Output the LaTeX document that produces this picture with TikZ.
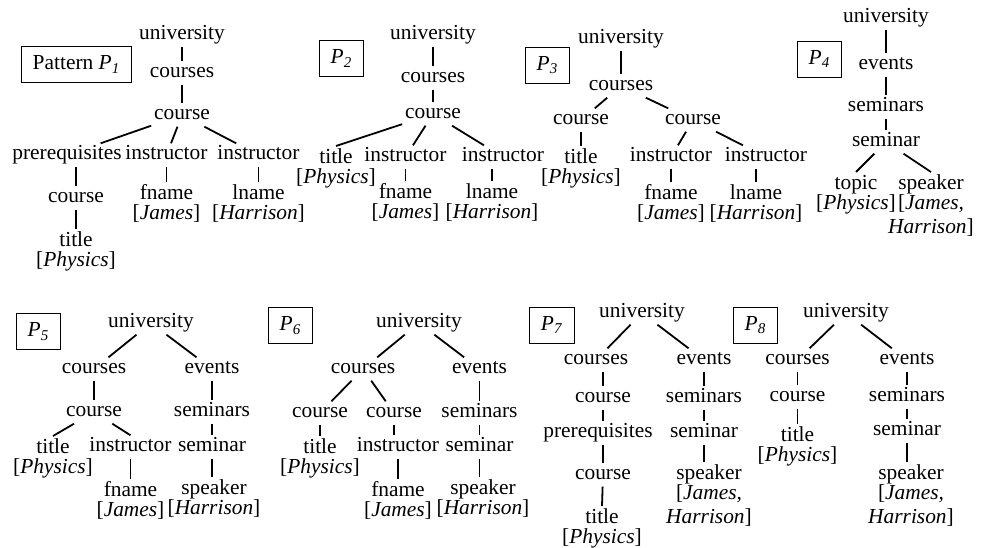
\documentclass[tikz,border=0pt]{standalone}
\usepackage{fontspec}
\setmainfont{Liberation Serif}
\begin{document}
\begin{tikzpicture}[x=0.5pt,y=-0.5pt,line width=0.9pt,
  lbl/.style={inner sep=1pt, align=center, font=\fontsize{10.7pt}{10pt}\selectfont},
  word/.style={lbl, text height=0.68em, text depth=0.2em},
  leaf/.style={lbl, anchor=north},
  pbox/.style={draw, line width=0.5pt, inner xsep=5.5pt, minimum height=18pt, font=\fontsize{10.7pt}{12pt}\selectfont}]
\useasboundingbox (0,0) rectangle (986,547);
\node[pbox] (p1p) at (76.5,64.5){Pattern \textit{P}\textsubscript{\textit{1}}};
\node[word] (p1u) at (182,35){university};
\node[word] (p1cs) at (182,73){courses};
\draw[](p1u) -- (p1cs);
\node[word] (p1c) at (182,115){course};
\draw[](p1cs) -- (p1c);
\node[word] (p1pr) at (67,155){prerequisites};
\node[word] (p1i) at (166.5,155){instructor};
\node[word] (p1j) at (258.5,155){instructor};
\draw[](p1c) -- (p1pr);
\draw[](p1c) -- (p1i);
\draw[](p1c) -- (p1j);
\node[word] (p1pc) at (76,198){course};
\node[leaf] (p1t) at (76,229){title\\{}[\textit{Physics}]};
\draw[](p1pc |- p1pr.south) -- (p1pc);
\draw[](p1pc) -- (p1t.north);
\node[leaf] (p1f) at (166.5,182){fname\\{}[\textit{James}]};
\node[leaf] (p1l) at (258.5,182){lname\\{}[\textit{Harrison}]};
\draw[](p1i) -- (p1f.north);
\draw[](p1j) -- (p1l.north);
\node[pbox] (p2p) at (341.5,58.5){\textit{P}\textsubscript{\textit{2}}};
\node[word] (p2u) at (433,35){university};
\node[word] (p2cs) at (433,78){courses};
\node[word] (p2c) at (433,114){course};
\draw[](p2u) -- (p2cs);
\draw[](p2cs) -- (p2c);
\node[leaf] (p2t) at (336,146){title\\{}[\textit{Physics}]};
\node[word] (p2i) at (405.5,157){instructor};
\node[word] (p2j) at (503,157){instructor};
\draw[](p2c) -- (p2t.north);
\draw[](p2c) -- (p2i);
\draw[](p2c) -- (p2j);
\node[leaf] (p2f) at (405.5,181){fname\\{}[\textit{James}]};
\node[leaf] (p2l) at (492,181){lname\\{}[\textit{Harrison}]};
\draw[](p2i) -- (p2f.north);
\draw[](p2l |- p2j.south) -- (p2l.north);
\node[pbox] (p3p) at (547.5,65){\textit{P}\textsubscript{\textit{3}}};
\node[word] (p3u) at (621,39){university};
\node[word] (p3cs) at (621,86){courses};
\draw[](p3u) -- (p3cs);
\node[word] (p3c) at (581,120){course};
\node[word] (p3d) at (693,120){course};
\draw[](p3cs) -- (p3c);
\draw[](p3cs) -- (p3d);
\node[leaf] (p3t) at (581,146){title\\{}[\textit{Physics}]};
\draw[](p3c) -- (p3t.north);
\node[word] (p3i) at (671,157){instructor};
\node[word] (p3j) at (766,157){instructor};
\draw[](p3d) -- (p3i);
\draw[](p3d) -- (p3j);
\node[leaf] (p3f) at (671,182){fname\\{}[\textit{James}]};
\node[leaf] (p3l) at (756,182){lname\\{}[\textit{Harrison}]};
\draw[](p3i) -- (p3f.north);
\draw[](p3l |- p3j.south) -- (p3l.north);
\node[pbox] (p4p) at (819.5,59){\textit{P}\textsubscript{\textit{4}}};
\node[word] (p4u) at (886,18){university};
\node[word] (p4e) at (886,65){events};
\node[word] (p4s) at (886,107){seminars};
\node[word] (p4m) at (886,142){seminar};
\draw[](p4u) -- (p4e);
\draw[](p4e) -- (p4s);
\draw[](p4s) -- (p4m);
\node[leaf] (p4t) at (856,172){topic\\{}[\textit{Physics}]};
\node[leaf] (p4k) at (931,172){speaker\\{}[\textit{James,}\\[2pt]\textit{Harrison}]};
\draw[](p4m) -- (p4t.north);
\draw[](p4m) -- (p4k.north);
\node[pbox] (p5p) at (38.5,331.5){\textit{P}\textsubscript{\textit{5}}};
\node[word] (p5u) at (151,323){university};
\node[word] (p5cs) at (94,369){courses};
\node[word] (p5e) at (212,369){events};
\draw[](p5u) -- (p5cs);
\draw[](p5u) -- (p5e);
\node[word] (p5c) at (94,412){course};
\draw[](p5cs) -- (p5c);
\node[leaf] (p5t) at (53,436){title\\{}[\textit{Physics}]};
\node[word] (p5i) at (130.5,447){instructor};
\draw[](p5c) -- (p5t.north);
\draw[](p5c) -- (p5i.north);
\node[leaf] (p5f) at (130.5,479){fname\\{}[\textit{James}]};
\draw[](p5i) -- (p5f.north);
\node[word] (p5s) at (212,412){seminars};
\node[word] (p5m) at (212,447){seminar};
\node[leaf] (p5k) at (214,477){speaker\\{}[\textit{Harrison}]};
\draw[](p5e) -- (p5s);
\draw[](p5s) -- (p5m);
\draw[](p5m) -- (p5m |- p5k.north);
\node[pbox] (p6p) at (290.5,325.5){\textit{P}\textsubscript{\textit{6}}};
\node[word] (p6u) at (419,323){university};
\node[word] (p6cs) at (363,369){courses};
\node[word] (p6e) at (479.5,369){events};
\draw[](p6u) -- (p6cs);
\draw[](p6u) -- (p6e);
\node[word] (p6c) at (320,413){course};
\node[word] (p6d) at (394,413){course};
\draw[](p6cs) -- (p6c);
\draw[](p6cs) -- (p6d);
\node[leaf] (p6t) at (320,436){title\\{}[\textit{Physics}]};
\node[word] (p6i) at (398,447){instructor};
\draw[](p6c) -- (p6t.north);
\draw[](p6d) -- (p6d |- p6i.north);
\node[leaf] (p6f) at (398,479){fname\\{}[\textit{James}]};
\draw[](p6i) -- (p6f.north);
\node[word] (p6s) at (479.5,413){seminars};
\node[word] (p6m) at (479.5,447){seminar};
\node[leaf] (p6k) at (483,477){speaker\\{}[\textit{Harrison}]};
\draw[](p6e) -- (p6s);
\draw[](p6s) -- (p6m);
\draw[](p6m) -- (p6m |- p6k.north);
\node[pbox] (p7p) at (552,325){\textit{P}\textsubscript{\textit{7}}};
\node[word] (p7u) at (642,313){university};
\node[word] (p7cs) at (596,360){courses};
\node[word] (p7e) at (704,360){events};
\draw[](p7u) -- (p7cs);
\draw[](p7u) -- (p7e);
\node[word] (p7c) at (603,398){course};
\node[word] (p7pr) at (598,433){prerequisites};
\node[word] (p7pc) at (603,475){course};
\node[leaf] (p7t) at (602,506){title\\{}[\textit{Physics}]};
\draw[](p7c |- p7cs.south) -- (p7c);
\draw[](p7c) -- (p7c |- p7pr.north);
\draw[](p7pc |- p7pr.south) -- (p7pc);
\draw[](p7pc) -- (p7t.north);
\node[word] (p7s) at (704,398){seminars};
\node[word] (p7m) at (704,433){seminar};
\node[leaf] (p7k) at (709,462){speaker\\{}[\textit{James,}\\[2pt]\textit{Harrison}]};
\draw[](p7e) -- (p7s);
\draw[](p7s) -- (p7m);
\draw[](p7m) -- (p7m |- p7k.north);
\node[pbox] (p8p) at (755.5,325){\textit{P}\textsubscript{\textit{8}}};
\node[word] (p8u) at (846,313){university};
\node[word] (p8cs) at (797.5,360){courses};
\node[word] (p8e) at (907,360){events};
\draw[](p8u) -- (p8cs);
\draw[](p8u) -- (p8e);
\node[word] (p8c) at (797.5,397){course};
\node[leaf] (p8t) at (797.5,424){title\\{}[\textit{Physics}]};
\draw[](p8cs) -- (p8c);
\draw[](p8c) -- (p8t.north);
\node[word] (p8s) at (907,397){seminars};
\node[word] (p8m) at (907,431){seminar};
\node[leaf] (p8k) at (911,462){speaker\\{}[\textit{James,}\\[2pt]\textit{Harrison}]};
\draw[](p8e) -- (p8s);
\draw[](p8s) -- (p8m);
\draw[](p8m) -- (p8m |- p8k.north);
\end{tikzpicture}
\end{document}
